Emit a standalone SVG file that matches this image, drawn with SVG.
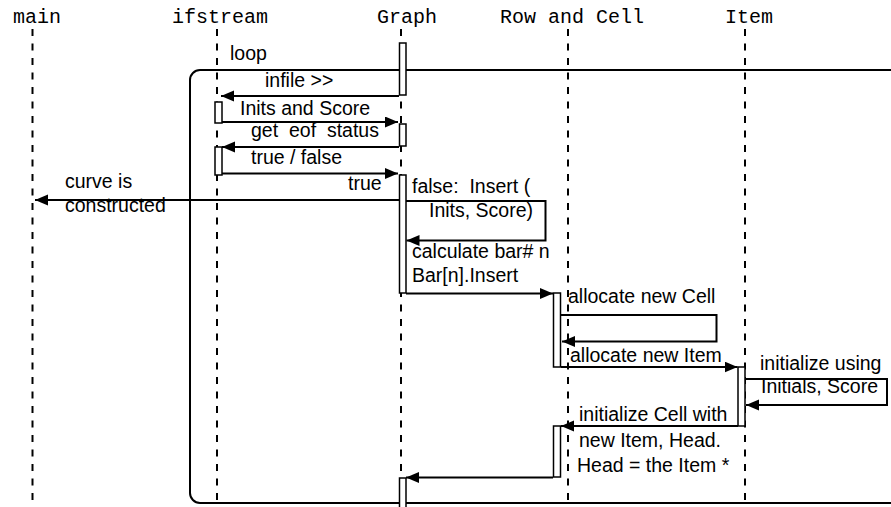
<svg xmlns="http://www.w3.org/2000/svg" width="891" height="507" viewBox="0 0 891 507">
<style>
.hd{font-family:"Liberation Mono","Courier New",monospace;font-size:20px;fill:#000}
.t{font-family:"Liberation Sans",Arial,Helvetica,sans-serif;font-size:19.5px;fill:#000;white-space:pre}
.life{stroke:#000;stroke-width:2;stroke-dasharray:7,7.5;fill:none}
.msg{stroke:#000;stroke-width:2;fill:none}
.bar{fill:#fff;stroke:#000;stroke-width:1.5}
.frame{fill:none;stroke:#000;stroke-width:2}
</style>
<defs>
<marker id="ah" markerUnits="userSpaceOnUse" markerWidth="14" markerHeight="12" refX="13" refY="5.5" orient="auto">
<path d="M0,0 L13,5.5 L0,11 z" fill="#000"/>
</marker>
</defs>
<rect width="891" height="507" fill="#fff"/>

<g id="lifelines">
<g id="main"><text class="hd" x="13" y="23">main</text><line class="life" x1="32.5" y1="29" x2="32.5" y2="507"/></g>
<g id="ifstream"><text class="hd" x="172" y="23">ifstream</text><line class="life" x1="217" y1="29" x2="217" y2="507"/></g>
<g id="graph"><text class="hd" x="377" y="23">Graph</text><line class="life" x1="401" y1="29" x2="401" y2="507"/></g>
<g id="rowcell"><text class="hd" x="500" y="23">Row and Cell</text><line class="life" x1="568" y1="29" x2="568" y2="507"/></g>
<g id="item"><text class="hd" x="725" y="23">Item</text><line class="life" x1="745" y1="29" x2="745" y2="507"/></g>
</g>

<g id="loop">
<rect class="frame" x="190" y="70" width="720" height="433" rx="10" ry="10"/>
<text class="t" x="230" y="60">loop</text>
</g>

<g id="connectors">
<line class="msg" x1="399" y1="96" x2="221" y2="96" marker-end="url(#ah)"/>
<line class="msg" x1="222" y1="122" x2="398" y2="122" marker-end="url(#ah)"/>
<line class="msg" x1="399" y1="147" x2="222" y2="147" marker-end="url(#ah)"/>
<line class="msg" x1="222" y1="173.5" x2="398" y2="173.5" marker-end="url(#ah)"/>
<line class="msg" x1="399" y1="200" x2="35" y2="200" marker-end="url(#ah)"/>
<polyline class="msg" points="406,201 545.5,201 545.5,240.5 406.5,240.5" marker-end="url(#ah)"/>
<line class="msg" x1="406" y1="293.5" x2="553" y2="293.5" marker-end="url(#ah)"/>
<polyline class="msg" points="561,315 716.5,315 716.5,341.5 562,341.5" marker-end="url(#ah)"/>
<line class="msg" x1="561" y1="367" x2="737.5" y2="367" marker-end="url(#ah)"/>
<polyline class="msg" points="745,379 887,379 887,405 746,405" marker-end="url(#ah)"/>
<line class="msg" x1="738" y1="426" x2="561" y2="426" marker-end="url(#ah)"/>
<line class="msg" x1="553" y1="477.5" x2="406" y2="477.5" marker-end="url(#ah)"/>
</g>

<g id="activations">
<rect class="bar" x="399.5" y="43" width="6.5" height="52"/>
<rect class="bar" x="215" y="102" width="7" height="21"/>
<rect class="bar" x="399.5" y="124" width="6.5" height="22"/>
<rect class="bar" x="215" y="147" width="7" height="28"/>
<rect class="bar" x="399.5" y="175" width="6.5" height="118"/>
<rect class="bar" x="553.5" y="293" width="7" height="74"/>
<rect class="bar" x="738" y="367" width="7" height="59"/>
<rect class="bar" x="553.5" y="426" width="7" height="51"/>
<rect class="bar" x="399.5" y="478" width="6.5" height="30"/>
</g>

<g id="labels">
<text class="t" x="265" y="87">infile &gt;&gt;</text>
<text class="t" x="240" y="115">Inits and Score</text>
<text class="t" x="251" y="137">get  eof  status</text>
<text class="t" x="251" y="164">true / false</text>
<text class="t" x="348" y="190">true</text>
<text class="t" x="65" y="188">curve is</text>
<text class="t" x="65" y="212">constructed</text>
<text class="t" x="412" y="193">false:  Insert (</text>
<text class="t" x="429" y="217">Inits, Score)</text>
<text class="t" x="412" y="258">calculate bar# n</text>
<text class="t" x="412" y="282">Bar[n].Insert</text>
<text class="t" x="568" y="303">allocate new Cell</text>
<text class="t" x="570" y="362">allocate new Item</text>
<text class="t" x="760" y="370">initialize using</text>
<text class="t" x="761" y="393">Initials, Score</text>
<text class="t" x="579" y="421">initialize Cell with</text>
<text class="t" x="579" y="447">new Item, Head.</text>
<text class="t" x="577" y="472">Head = the Item *</text>
</g>
</svg>
